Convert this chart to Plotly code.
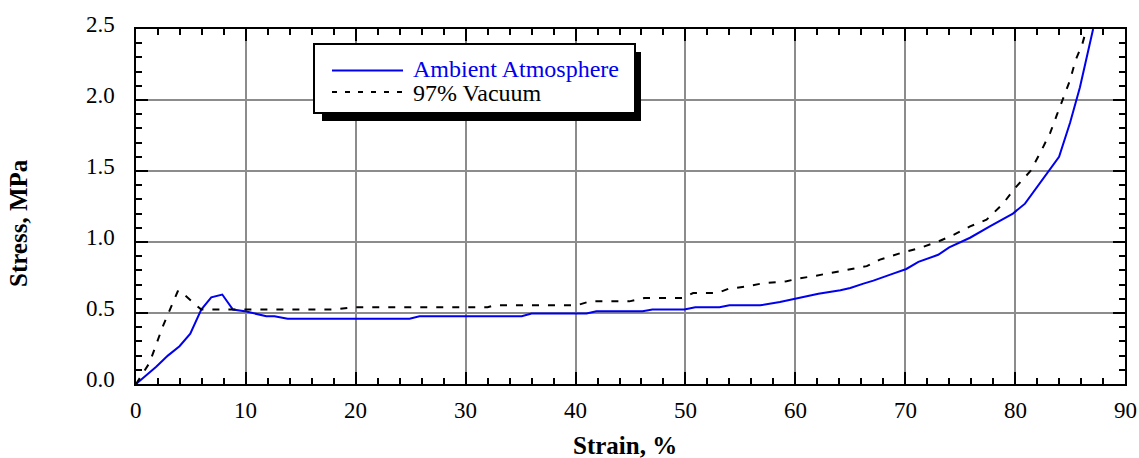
import plotly.graph_objects as go

# ---------------- data ----------------
ambient_strain = [0, 1.84, 2.9, 3.96, 4.94, 5.94, 6.85, 7.85, 8.82, 10.04, 11.86, 12.6, 13.8,
                  24.9, 25.8, 35.1, 36.0, 41.0, 41.9, 46.1, 47.0, 49.9, 50.9, 53.1, 54.0, 56.8,
                  58.6, 60.0, 62.1, 64.1, 65.0, 66.2, 67.1, 68.9, 70.1, 71.2, 73.0, 74.0, 75.9,
                  77.7, 79.8, 80.9, 82.9, 84.0, 85.0, 85.9, 87.1]
ambient_stress = [0, 0.121, 0.2, 0.266, 0.355, 0.524, 0.61, 0.63, 0.524, 0.51, 0.477, 0.477, 0.46,
                  0.46, 0.477, 0.477, 0.496, 0.496, 0.512, 0.512, 0.524, 0.524, 0.54, 0.54, 0.554, 0.554,
                  0.578, 0.6, 0.636, 0.66, 0.676, 0.707, 0.728, 0.777, 0.81, 0.86, 0.91, 0.962, 1.03,
                  1.11, 1.2, 1.27, 1.485, 1.6, 1.84, 2.09, 2.5]

vacuum_strain = [0, 1.23, 2.44, 3.2, 3.8, 3.96, 4.7, 5.94, 17.9, 19.7, 32.0, 32.6, 40.1, 41.3,
                 44.9, 46.3, 49.7, 50.7, 52.9, 53.9, 55.6, 57.1, 59.2, 60.1, 61.9, 63.5, 65.3,
                 66.5, 67.7, 69.5, 71.4, 72.9, 74.4, 75.9, 77.4, 78.9, 80.0, 81.4, 82.3, 83.2,
                 83.8, 84.4, 85.0, 85.5, 86.1, 86.5]
vacuum_stress = [0, 0.149, 0.406, 0.547, 0.653, 0.658, 0.606, 0.524, 0.524, 0.54, 0.54, 0.554, 0.554, 0.582,
                 0.582, 0.606, 0.606, 0.641, 0.641, 0.67, 0.688, 0.71, 0.723, 0.74, 0.763, 0.786, 0.81,
                 0.83, 0.876, 0.92, 0.96, 1.0, 1.05, 1.11, 1.157, 1.27, 1.38, 1.5, 1.63, 1.77,
                 1.895, 2.02, 2.14, 2.28, 2.39, 2.5]

x_ticks = [0, 10, 20, 30, 40, 50, 60, 70, 80, 90]
x_tick_labels = ["0", "10", "20", "30", "40", "50", "60", "70", "80", "90"]
y_ticks = [0.0, 0.5, 1.0, 1.5, 2.0, 2.5]
y_tick_labels = ["0.0", "0.5", "1.0", "1.5", "2.0", "2.5"]

series_names = ["Ambient Atmosphere", "97% Vacuum"]
x_title = "Strain, %"
y_title = "Stress, MPa"

# ---------------- layout helpers ----------------
W, H = 1139, 458
ML, MR, MT, MB = 136, 14, 29, 74
L, R, T, B = ML, W - MR, MT, H - MB


def fx(px):
    return (px - L) / (R - L)


def fy(py):
    return (B - py) / (B - T)


BLUE = "#0000ee"
FONT = "Liberation Serif, Times New Roman, serif"

fig = go.Figure()
fig.add_trace(go.Scatter(x=ambient_strain, y=ambient_stress, mode="lines",
                         name=series_names[0], line=dict(color=BLUE, width=2)))
fig.add_trace(go.Scatter(x=vacuum_strain, y=vacuum_stress, mode="lines",
                         name=series_names[1], line=dict(color="black", width=2, dash="7px,9px")))

axis_common = dict(
    showline=True, linecolor="black", linewidth=2, mirror="ticks",
    ticks="inside", ticklen=12, tickwidth=2, tickcolor="black",
    showgrid=True, gridcolor="#8c8c8c", gridwidth=2,
    zeroline=False, automargin=False, showticklabels=False,
)

fig.update_xaxes(range=[0, 90], tickvals=x_ticks,
                 minor=dict(dtick=2, ticks="inside", ticklen=6, tickwidth=2,
                            tickcolor="black", showgrid=False),
                 **axis_common)
fig.update_yaxes(range=[0, 2.5], tickvals=y_ticks,
                 minor=dict(dtick=0.1, ticks="inside", ticklen=6, tickwidth=2,
                            tickcolor="black", showgrid=False),
                 **axis_common)

shapes = [
    # legend shadow
    dict(type="rect", xref="paper", yref="paper", x0=fx(322), x1=fx(641), y0=fy(121), y1=fy(52),
         fillcolor="black", line=dict(width=0), layer="above"),
    # legend box
    dict(type="rect", xref="paper", yref="paper", x0=fx(314), x1=fx(635), y0=fy(113), y1=fy(44),
         fillcolor="white", line=dict(color="black", width=2), layer="above"),
    dict(type="line", xref="paper", yref="paper", x0=fx(332), x1=fx(403), y0=fy(70.5), y1=fy(70.5),
         line=dict(color=BLUE, width=2), layer="above"),
    dict(type="line", xref="paper", yref="paper", x0=fx(332), x1=fx(403), y0=fy(92), y1=fy(92),
         line=dict(color="black", width=2, dash="5px,8px"), layer="above"),
]

annotations = [
    dict(xref="paper", yref="paper", x=fx(411), y=fy(69), text=series_names[0], showarrow=False,
         xanchor="left", yanchor="middle", font=dict(family=FONT, size=24, color=BLUE)),
    dict(xref="paper", yref="paper", x=fx(411), y=fy(93), text=series_names[1], showarrow=False,
         xanchor="left", yanchor="middle", font=dict(family=FONT, size=24, color="black")),
    dict(xref="paper", yref="paper", x=fx(625), y=fy(445), text="<b>" + x_title + "</b>", showarrow=False,
         xanchor="center", yanchor="middle", font=dict(family=FONT, size=25, color="black")),
    dict(xref="paper", yref="paper", x=fx(19), y=fy(223), text="<b>" + y_title + "</b>", showarrow=False,
         textangle=-90, xanchor="center", yanchor="middle", font=dict(family=FONT, size=25, color="black")),
]

# tick labels placed through the axes' own scales
for v, t in zip(x_ticks, x_tick_labels):
    annotations.append(dict(xref="x", yref="paper", x=v, y=fy(411), text=t, showarrow=False,
                            xanchor="center", yanchor="middle",
                            font=dict(family=FONT, size=23, color="black")))
for v, t in zip(y_ticks, y_tick_labels):
    annotations.append(dict(xref="paper", yref="y", x=fx(117), y=v, yshift=5, text=t, showarrow=False,
                            xanchor="right", yanchor="middle",
                            font=dict(family=FONT, size=23, color="black")))

fig.update_layout(
    width=W, height=H,
    margin=dict(l=ML, r=MR, t=MT, b=MB, pad=0, autoexpand=False),
    paper_bgcolor="white", plot_bgcolor="white",
    showlegend=False,
    shapes=shapes, annotations=annotations,
)

fig.write_html("out.html")
